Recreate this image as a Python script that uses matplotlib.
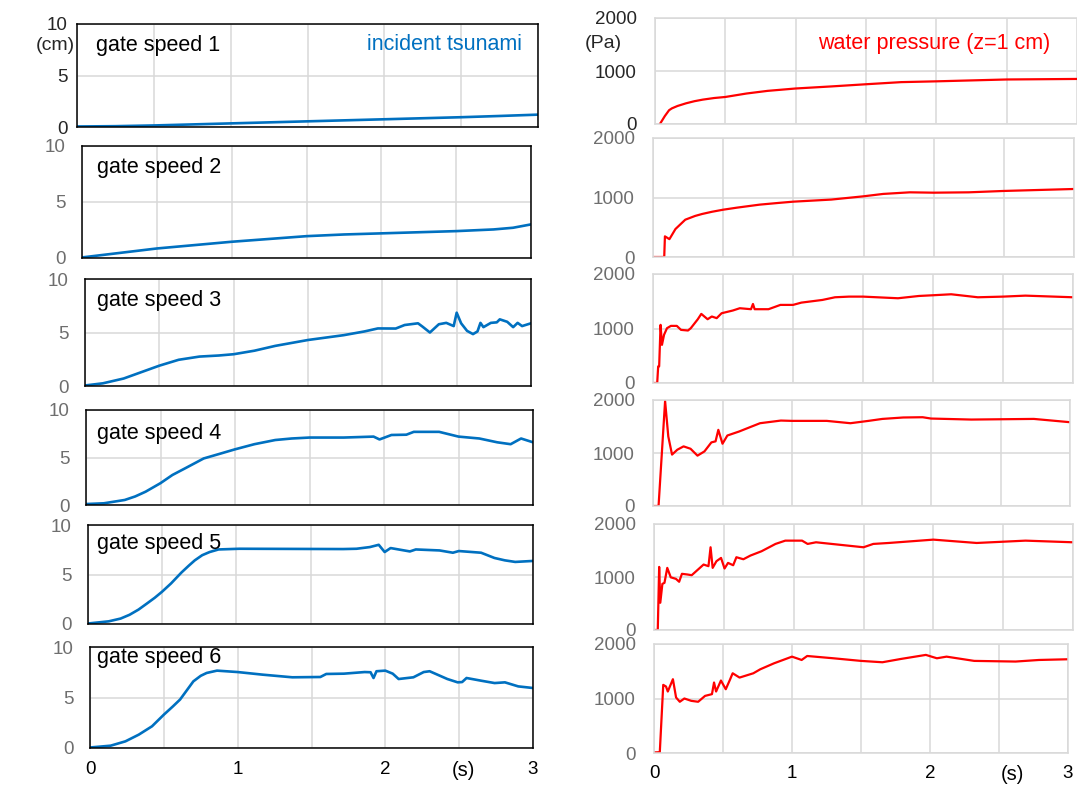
import matplotlib
matplotlib.use("Agg")
import matplotlib.pyplot as plt

plt.rcParams['font.family'] = ['Liberation Sans', 'DejaVu Sans']

W, H = 1077, 787

# incident tsunami height (cm), gate speed 1..6
gs1_t = [0, 0.25, 0.5, 0.75, 1.0, 1.25, 1.5, 1.75, 2.0, 2.25, 2.5, 2.75, 3.0]
gs1_h = [0.05, 0.08, 0.15, 0.25, 0.35, 0.45, 0.55, 0.65, 0.75, 0.85, 0.95, 1.07, 1.2]

gs2_t = [0, 0.25, 0.5, 0.75, 1.0, 1.25, 1.5, 1.75, 2.0, 2.25, 2.5, 2.75, 2.88, 3.0]
gs2_h = [0.05, 0.45, 0.85, 1.15, 1.45, 1.7, 1.95, 2.1, 2.2, 2.3, 2.4, 2.55, 2.7, 3.0]

gs3_t = [0, 0.12, 0.26, 0.39, 0.5, 0.63, 0.77, 0.9, 1.0, 1.14, 1.28, 1.5, 1.74, 1.88,
         1.97, 2.09, 2.15, 2.24, 2.27, 2.32, 2.38, 2.43, 2.48, 2.5, 2.53, 2.57, 2.61,
         2.64, 2.66, 2.68, 2.73, 2.77, 2.79, 2.84, 2.88, 2.91, 2.94, 3.0]
gs3_h = [0.05, 0.25, 0.7, 1.35, 1.9, 2.45, 2.75, 2.85, 2.97, 3.3, 3.75, 4.3, 4.75, 5.1,
         5.38, 5.37, 5.7, 5.86, 5.55, 5.0, 5.77, 5.9, 5.6, 6.85, 5.86, 5.15, 4.85,
         5.1, 5.9, 5.5, 5.9, 5.95, 6.23, 6.0, 5.5, 5.9, 5.6, 5.86]

gs4_t = [0, 0.12, 0.26, 0.33, 0.4, 0.5, 0.58, 0.67, 0.79, 0.9, 1.0, 1.13, 1.27, 1.38,
         1.5, 1.73, 1.93, 1.97, 2.05, 2.15, 2.2, 2.37, 2.5, 2.64, 2.76, 2.85, 2.92, 3.0]
gs4_h = [0.1, 0.18, 0.53, 0.9, 1.4, 2.3, 3.16, 3.9, 4.9, 5.4, 5.86, 6.4, 6.84, 7.0,
         7.1, 7.1, 7.2, 6.9, 7.37, 7.4, 7.7, 7.7, 7.2, 7.0, 6.6, 6.4, 7.0, 6.6]

gs5_t = [0, 0.14, 0.22, 0.28, 0.34, 0.4, 0.45, 0.5, 0.56, 0.63, 0.68, 0.72, 0.77, 0.82,
         0.88, 1.02, 1.72, 1.81, 1.9, 1.96, 2.0, 2.04, 2.17, 2.21, 2.37, 2.46, 2.5, 2.65,
         2.74, 2.81, 2.88, 3.0]
gs5_h = [0.05, 0.27, 0.55, 0.93, 1.45, 2.1, 2.65, 3.27, 4.1, 5.2, 5.9, 6.43, 6.95, 7.27,
         7.53, 7.6, 7.57, 7.6, 7.77, 8.0, 7.27, 7.67, 7.33, 7.53, 7.43, 7.2, 7.37, 7.2,
         6.67, 6.43, 6.27, 6.37]

gs6_t = [0, 0.14, 0.24, 0.33, 0.42, 0.5, 0.56, 0.61, 0.66, 0.7, 0.75, 0.79, 0.86, 1.0,
         1.17, 1.37, 1.56, 1.6, 1.72, 1.86, 1.9, 1.92, 1.94, 2.0, 2.05, 2.09, 2.19, 2.26,
         2.3, 2.42, 2.49, 2.52, 2.55, 2.65, 2.74, 2.81, 2.9, 3.0]
gs6_h = [0.05, 0.23, 0.66, 1.32, 2.15, 3.3, 4.1, 4.8, 5.8, 6.6, 7.15, 7.43, 7.66, 7.52,
         7.26, 7.0, 7.03, 7.33, 7.36, 7.52, 7.5, 6.93, 7.6, 7.66, 7.36, 6.83, 7.0, 7.52,
         7.6, 6.83, 6.5, 6.53, 6.93, 6.66, 6.43, 6.5, 6.1, 5.94]

# water pressure (Pa) at z=1 cm
p1_t = [0.035, 0.07, 0.1, 0.12, 0.16, 0.22, 0.28, 0.34, 0.42, 0.5, 0.65, 0.8, 1.0, 1.26,
        1.5, 1.75, 2.0, 2.5, 3.0]
p1_p = [0, 150, 260, 295, 340, 390, 430, 460, 490, 510, 575, 625, 670, 710,
        750, 790, 805, 840, 850]

p2_t = [0, 0.08, 0.085, 0.117, 0.16, 0.2, 0.23, 0.3, 0.35, 0.42, 0.5, 0.6, 0.76, 0.9,
        1.0, 1.27, 1.5, 1.64, 1.83, 2.0, 2.25, 2.5, 3.0]
p2_p = [0, 0, 347, 300, 470, 560, 627, 690, 723, 760, 795, 830, 880, 910,
        930, 965, 1020, 1060, 1087, 1081, 1087, 1110, 1143]

p3_t = [0, 0.03, 0.037, 0.044, 0.054, 0.064, 0.079, 0.1, 0.128, 0.17, 0.2, 0.25, 0.27,
        0.32, 0.345, 0.39, 0.42, 0.455, 0.49, 0.57, 0.62, 0.7, 0.714, 0.726, 0.825, 0.91,
        1.0, 1.06, 1.21, 1.3, 1.4, 1.5, 1.75, 1.9, 2.0, 2.13, 2.32, 2.5, 2.66, 3.0]
p3_p = [0, 0, 305, 305, 1067, 700, 885, 1006, 1048, 1048, 975, 963, 1006,
        1170, 1268, 1170, 1220, 1190, 1280, 1330, 1372, 1354, 1450, 1354, 1354, 1433,
        1433, 1475, 1524, 1573, 1585, 1585, 1555, 1597, 1610, 1628, 1573, 1585, 1603, 1573]

p4_t = [0, 0.04, 0.087, 0.11, 0.137, 0.175, 0.22, 0.27, 0.32, 0.37, 0.42, 0.45, 0.47,
        0.5, 0.535, 0.62, 0.71, 0.77, 0.92, 1.0, 1.25, 1.42, 1.55, 1.65, 1.8, 1.94, 2.0,
        2.29, 2.74, 3.0]
p4_p = [0, 0, 1980, 1312, 970, 1062, 1125, 1080, 950, 1030, 1200, 1220, 1437,
        1175, 1330, 1406, 1500, 1562, 1612, 1606, 1606, 1562, 1606, 1643, 1670, 1675, 1650,
        1631, 1643, 1581]

p5_t = [0, 0.027, 0.037, 0.045, 0.06, 0.075, 0.095, 0.12, 0.157, 0.18, 0.2, 0.24, 0.27,
        0.355, 0.39, 0.405, 0.42, 0.447, 0.48, 0.505, 0.53, 0.567, 0.59, 0.64, 0.69, 0.77,
        0.87, 0.94, 1.06, 1.1, 1.16, 1.5, 1.57, 1.68, 2.0, 2.31, 2.66, 3.0]
p5_p = [0, 0, 1190, 514, 870, 890, 1172, 994, 965, 910, 1060, 1047, 1034,
        1235, 1204, 1561, 1172, 1298, 1360, 1160, 1266, 1222, 1373, 1335, 1404, 1486,
        1624, 1686, 1686, 1624, 1655, 1561, 1624, 1642, 1705, 1642, 1686, 1655]

p6_t = [0, 0.042, 0.067, 0.087, 0.1, 0.137, 0.16, 0.187, 0.22, 0.27, 0.32, 0.37, 0.42,
        0.435, 0.45, 0.485, 0.52, 0.55, 0.57, 0.62, 0.72, 0.77, 0.87, 1.0, 1.07, 1.11,
        1.3, 1.5, 1.655, 1.79, 1.97, 2.05, 2.12, 2.32, 2.62, 2.79, 3.0]
p6_p = [10, 15, 1250, 1220, 1128, 1354, 1018, 940, 1000, 957, 940, 1048, 1080,
        1293, 1128, 1330, 1170, 1342, 1463, 1384, 1463, 1536, 1646, 1768, 1707, 1780,
        1738, 1690, 1665, 1726, 1800, 1738, 1768, 1690, 1678, 1707, 1720]

wave_t = [gs1_t, gs2_t, gs3_t, gs4_t, gs5_t, gs6_t]
wave_h = [gs1_h, gs2_h, gs3_h, gs4_h, gs5_h, gs6_h]
pres_t = [p1_t, p2_t, p3_t, p4_t, p5_t, p6_t]
pres_p = [p1_p, p2_p, p3_p, p4_p, p5_p, p6_p]
gate_labels = ["gate speed 1", "gate speed 2", "gate speed 3",
               "gate speed 4", "gate speed 5", "gate speed 6"]
x_ticks = [0, 0.5, 1, 1.5, 2, 2.5, 3]
x_ticklabels = ["0", "", "1", "", "2", "", "3"]

# panel boxes in pixels: x0, x1, ytop, ybottom
left_boxes = [(77, 538, 24, 127), (82, 531, 146, 258), (85, 531, 279, 386),
              (86, 533, 410, 505), (88, 533, 525, 624), (90, 533, 647, 748)]
right_boxes = [(655, 1077, 18, 124), (653, 1074, 138, 257), (653, 1073, 274, 383),
               (653, 1070, 400, 506), (654, 1073, 524, 630), (654, 1068, 644, 753)]
label_pos = [(96, 45), (97, 167), (97, 300), (97, 433), (97, 543), (97, 658)]

BLUE = "#0070C0"
RED = "#FF0000"
GRID = "#D9D9D9"


def box(b):
    x0, x1, yt, yb = b
    return [x0 / W, 1 - yb / H, (x1 - x0) / W, (yb - yt) / H]


fig = plt.figure(figsize=(W / 100, H / 100), dpi=100)

for i in range(6):
    tick_col = "#262626" if i == 0 else "#6E6E6E"

    # left: incident tsunami
    ax = fig.add_axes(box(left_boxes[i]))
    ax.plot(wave_t[i], wave_h[i], color=BLUE, lw=1.9, solid_joinstyle="round")
    ax.set_xlim(0, 3)
    ax.set_ylim(0, 10)
    ax.set_xticks(x_ticks)
    ax.set_yticks([0, 5, 10])
    ax.grid(True, color=GRID, lw=1.1)
    ax.set_axisbelow(True)
    for s in ax.spines.values():
        s.set_color("black")
        s.set_linewidth(1.1)
    ax.tick_params(length=0, labelsize=13.5, colors=tick_col, pad=7 if i == 0 else 12)
    if i == 5:
        ax.set_xticklabels(x_ticklabels, color="black")
        ax.tick_params(axis="x", pad=9)
    else:
        ax.set_xticklabels([])

    # right: water pressure
    ax2 = fig.add_axes(box(right_boxes[i]))
    ax2.plot(pres_t[i], pres_p[i], color=RED, lw=1.6, solid_joinstyle="round")
    ax2.set_xlim(0, 3)
    ax2.set_ylim(0, 2000)
    ax2.set_xticks(x_ticks)
    ax2.set_yticks([0, 1000, 2000])
    ax2.grid(True, color=GRID, lw=1.1)
    ax2.set_axisbelow(True)
    for s in ax2.spines.values():
        s.set_color(GRID)
        s.set_linewidth(1.1)
    if i == 0:
        ax2.spines["right"].set_visible(False)
    ax2.tick_params(length=0, labelsize=13.5, colors=tick_col, pad=13)
    if i == 5:
        ax2.set_xticklabels(x_ticklabels, color="black")
        ax2.tick_params(axis="x", pad=9)
    else:
        ax2.set_xticklabels([])

    lx, ly = label_pos[i]
    fig.text(lx / W, 1 - ly / H, gate_labels[i], fontsize=15.5, color="black",
             ha="left", va="center")

fig.text(522 / W, 1 - 45 / H, "incident tsunami", fontsize=15.5, color=BLUE,
         ha="right", va="center")
fig.text(1050 / W, 1 - 43 / H, "water pressure (z=1 cm)", fontsize=15.5, color=RED,
         ha="right", va="center")
fig.text(55 / W, 1 - 46 / H, "(cm)", fontsize=14, color="#262626", ha="center", va="center")
fig.text(603 / W, 1 - 43 / H, "(Pa)", fontsize=14, color="#262626", ha="center", va="center")
fig.text(463 / W, 1 - 770 / H, "(s)", fontsize=14.5, color="black", ha="center", va="center")
fig.text(1012 / W, 1 - 774 / H, "(s)", fontsize=14.5, color="black", ha="center", va="center")

fig.savefig("out.png", dpi=100)
